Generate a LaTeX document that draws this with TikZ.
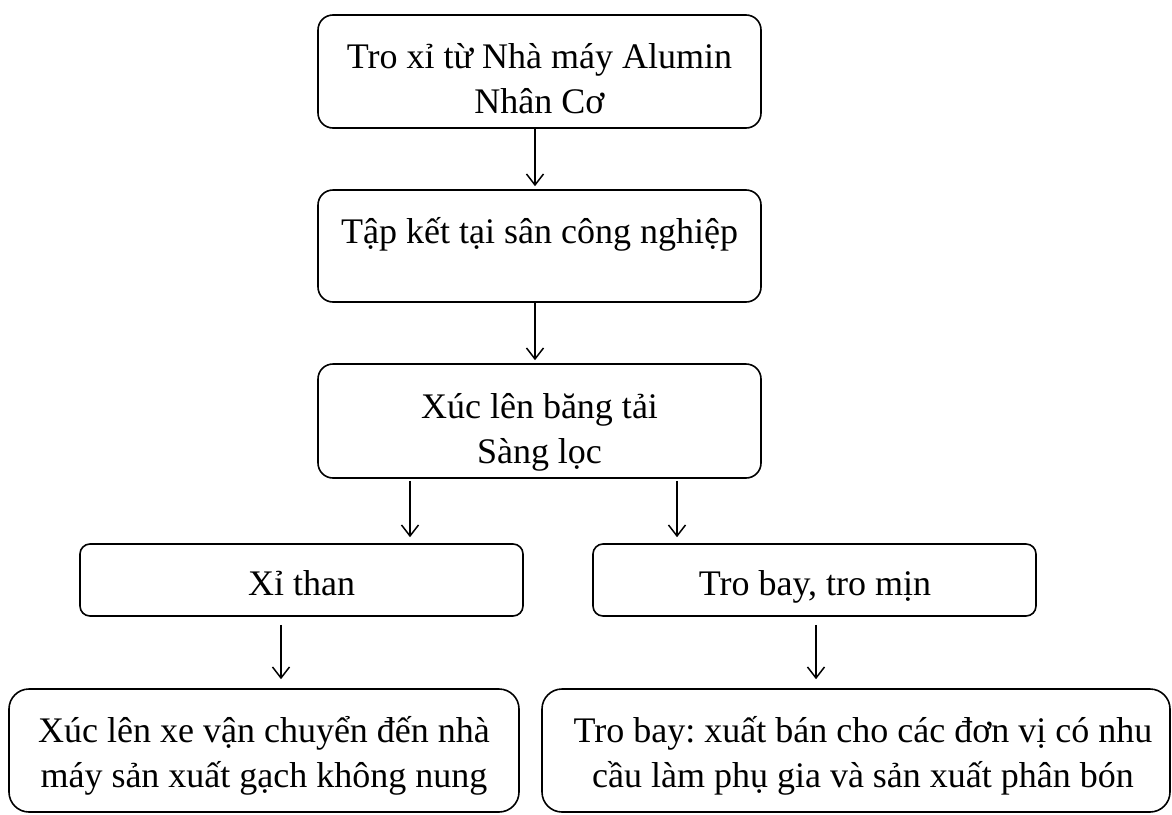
\documentclass[tikz,border=0pt]{standalone}
\usepackage{fontspec}
\setmainfont{Liberation Serif}
\usetikzlibrary{arrows.meta}
\begin{document}
\frenchspacing
\begin{tikzpicture}[x=1pt,y=-1pt,
  box/.style={draw, line width=1.6pt, inner sep=0pt},
  bigbox/.style={box, rounded corners=15pt, minimum width=443pt},
  midbox/.style={box, rounded corners=10pt, minimum width=443pt, minimum height=72pt},
  lowbox/.style={box, rounded corners=20pt, minimum height=123pt},
  txt/.style={anchor=base, inner sep=0pt, font=\fontsize{36}{45}\selectfont},
  arr/.style={line width=1.5pt, -{Straight Barb[length=11pt,width=17pt]}}]
\useasboundingbox (0,0) rectangle (1172,814);
\fill[white] (0,0) rectangle (1172,814);

% boxes
\node[bigbox, minimum height=113pt] (b1) at (539.5,71.5) {};
\node[bigbox, minimum height=112pt] (b2) at (539.5,246) {};
\node[bigbox, minimum height=114pt] (b3) at (539.5,421) {};
\node[midbox] (b4) at (301.5,580) {};
\node[midbox] (b5) at (814.5,580) {};
\node[lowbox, minimum width=510pt] (b6) at (264,750.5) {};
\node[lowbox, minimum width=628pt] (b7) at (856,750.5) {};

% texts
\node[txt] (t1) at (539.5,68) {\begin{tabular}[t]{@{}c@{}}Tro xỉ từ Nhà máy Alumin\\ Nhân Cơ\end{tabular}};
\node[txt] (t2) at (539.5,243) {Tập kết tại sân công nghiệp};
\node[txt] (t3) at (539.5,418) {\begin{tabular}[t]{@{}c@{}}Xúc lên băng tải\\ Sàng lọc\end{tabular}};
\node[txt] (t4) at (301.5,595) {Xỉ than};
\node[txt] (t5) at (815,595) {Tro bay, tro mịn};
\node[txt] (t6) at (264,742) {\begin{tabular}[t]{@{}c@{}}Xúc lên xe vận chuyển đến nhà\\ máy sản xuất gạch không nung\end{tabular}};
\node[txt] (t7) at (863,742) {\begin{tabular}[t]{@{}c@{}}Tro bay: xuất bán cho các đơn vị có nhu\\ cầu làm phụ gia và sản xuất phân bón\end{tabular}};

% arrow columns
\coordinate (a12) at (535,0);
\coordinate (a34) at (410,0);
\coordinate (a35) at (677,0);
\coordinate (a46) at (281,0);
\coordinate (a57) at (816,0);

\draw[arr, shorten >=3pt] (b1.south -| a12) -- (b2.north -| a12);
\draw[arr, shorten >=3pt] (b2.south -| a12) -- (b3.north -| a12);
\draw[arr, shorten <=2pt, shorten >=6pt] (b3.south -| a34) -- (b4.north -| a34);
\draw[arr, shorten <=2pt, shorten >=6pt] (b3.south -| a35) -- (b5.north -| a35);
\draw[arr, shorten <=8pt, shorten >=9pt] (b4.south -| a46) -- (b6.north -| a46);
\draw[arr, shorten <=8pt, shorten >=9pt] (b5.south -| a57) -- (b7.north -| a57);
\end{tikzpicture}
\end{document}
